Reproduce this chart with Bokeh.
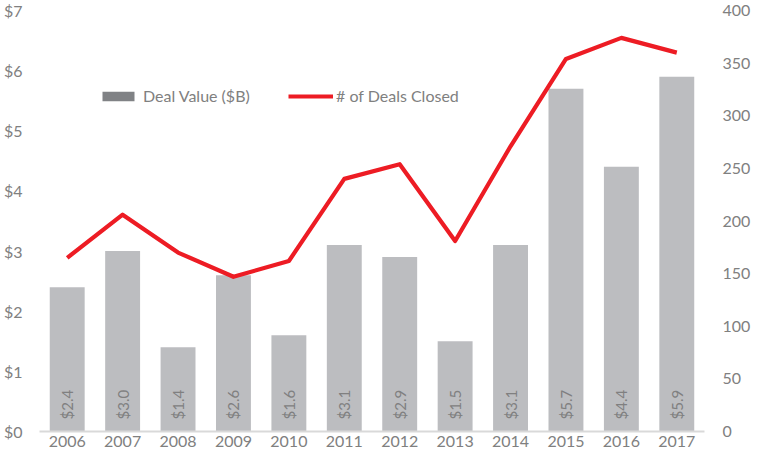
import math
from bokeh.plotting import figure
from bokeh.models import (ColumnDataSource, Range1d, LinearAxis, FixedTicker,
                          Legend, LegendItem, FactorRange)
from bokeh.core.properties import value
from bokeh.embed import file_html
from bokeh.resources import INLINE

years = ["2006", "2007", "2008", "2009", "2010", "2011",
         "2012", "2013", "2014", "2015", "2016", "2017"]
deal_value = [2.4, 3.0, 1.4, 2.6, 1.6, 3.1, 2.9, 1.5, 3.1, 5.7, 4.4, 5.9]
deals_closed = [165, 206, 170, 147, 162, 240, 254, 181, 271, 354, 374, 360]
bar_labels = ["$2.4", "$3.0", "$1.4", "$2.6", "$1.6", "$3.1",
              "$2.9", "$1.5", "$3.1", "$5.7", "$4.4", "$5.9"]
left_ticks = [0, 1, 2, 3, 4, 5, 6, 7]
left_tick_labels = ["$0", "$1", "$2", "$3", "$4", "$5", "$6", "$7"]
right_ticks = [0, 50, 100, 150, 200, 250, 300, 350, 400]

FONT = "Lato"
TXT = "#808080"
BAR = "#BCBDC0"
RED = "#ED1C24"

src = ColumnDataSource(dict(year=years, val=deal_value, deals=deals_closed,
                            lab=bar_labels, zero=[0] * len(years)))

p = figure(width=753, height=455, x_range=FactorRange(*years, range_padding=0),
           y_range=Range1d(0, 7), output_backend="svg", toolbar_location=None,
           min_border_left=36, min_border_right=48, min_border_top=10,
           min_border_bottom=24)
p.outline_line_color = None
p.grid.visible = False
p.background_fill_color = "white"
p.border_fill_color = "white"

p.extra_y_ranges = {"deals": Range1d(0, 400)}

bars = p.vbar(x="year", top="val", width=0.63, source=src, fill_color=BAR,
              line_color=None)
line = p.line(x="year", y="deals", source=src, y_range_name="deals",
              line_color=RED, line_width=4.2, line_join="round")

p.text(x="year", y="zero", text="lab", source=src, angle=math.pi / 2,
       text_align="left", text_baseline="middle", y_offset=-12,
       text_font=value(FONT), text_font_size="15px", text_color=TXT)

# x axis
xa = p.xaxis[0]
xa.axis_line_color = "#D9D9D9"
xa.axis_line_width = 2
xa.major_tick_line_color = None
xa.minor_tick_line_color = None
xa.major_tick_out = 0
xa.major_tick_in = 0
xa.major_label_standoff = 4
xa.major_label_text_font = FONT
xa.major_label_text_font_size = "16px"
xa.major_label_text_line_height = 1.0
xa.major_label_text_color = TXT

# left axis
ya = p.yaxis[0]
ya.ticker = FixedTicker(ticks=left_ticks)
ya.major_label_overrides = {t: l for t, l in zip(left_ticks, left_tick_labels)}
ya.axis_line_color = None
ya.major_tick_line_color = None
ya.minor_tick_line_color = None
ya.major_tick_out = 0
ya.major_tick_in = 0
ya.major_label_standoff = 17
ya.major_label_text_font = FONT
ya.major_label_text_font_size = "16px"
ya.major_label_text_color = TXT

# right axis
ra = LinearAxis(y_range_name="deals", ticker=FixedTicker(ticks=right_ticks))
ra.axis_line_color = None
ra.major_tick_line_color = None
ra.minor_tick_line_color = None
ra.major_tick_out = 0
ra.major_tick_in = 0
ra.major_label_standoff = 18
ra.major_label_text_font = FONT
ra.major_label_text_font_size = "16px"
ra.major_label_text_color = TXT
p.add_layout(ra, "right")

# legend swatch renderer (darker gray), zero-height so it draws nothing in the plot
dummy = p.vbar(x=[years[0]], top=[0], bottom=[0], width=0.01,
               fill_color="#808285", line_color=None)


def mk_legend(item, loc, gw, standoff):
    lg = Legend(items=[item], location=loc, orientation="horizontal",
                glyph_width=gw, glyph_height=12, label_standoff=standoff,
                padding=0, margin=0, spacing=0,
                border_line_alpha=0, background_fill_alpha=0,
                label_text_font=FONT, label_text_font_size="16px",
                label_text_color=TXT, label_height=14)
    p.add_layout(lg, "center")
    return lg


mk_legend(LegendItem(label="Deal Value ($B)", renderers=[dummy]), (59, 326), 40, 5)
mk_legend(LegendItem(label="# of Deals Closed", renderers=[line]), (249, 326), 45, 3)

open("out.html", "w").write(file_html(p, INLINE))
